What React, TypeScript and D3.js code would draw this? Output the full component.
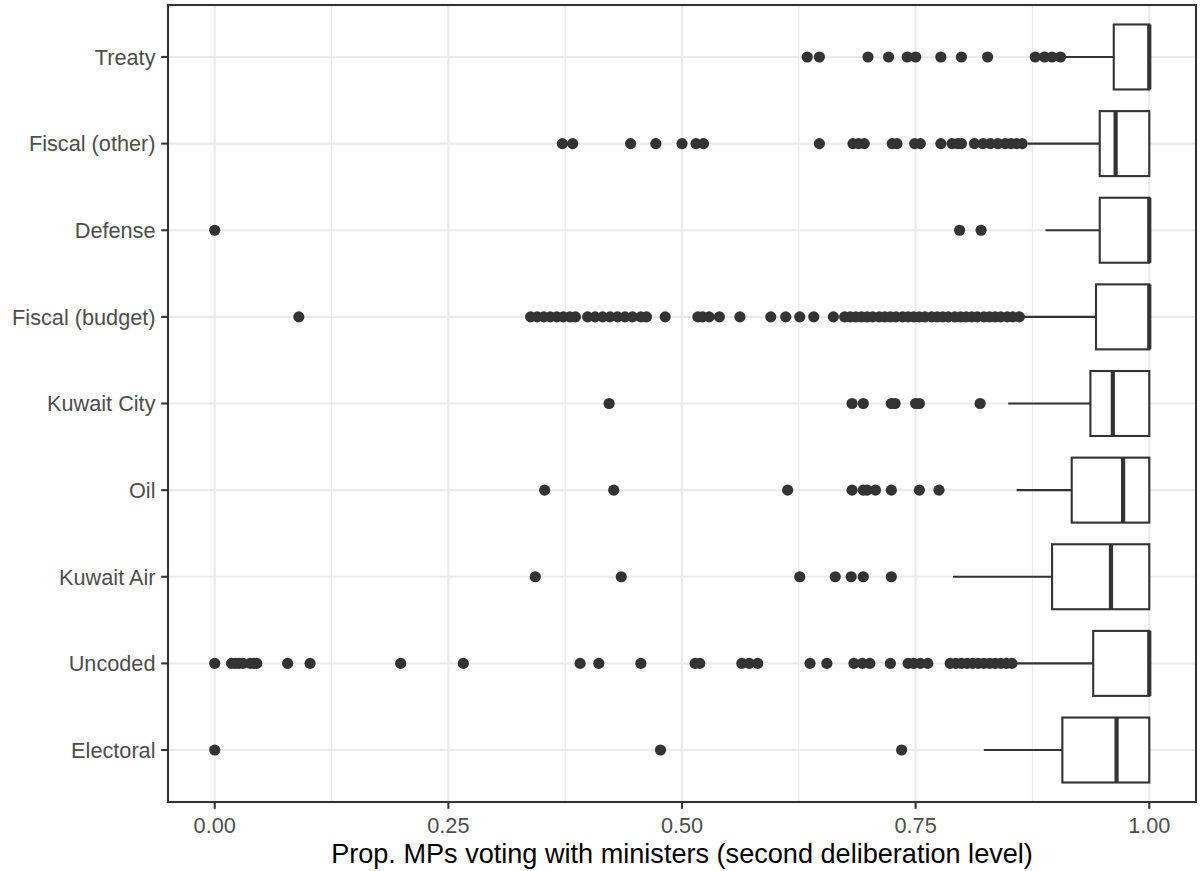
import React, { useEffect, useRef } from 'react';
import * as d3 from 'd3';

// categories top to bottom
const categories = ['Treaty', 'Fiscal (other)', 'Defense', 'Fiscal (budget)', 'Kuwait City', 'Oil', 'Kuwait Air', 'Uncoded', 'Electoral'];

// box summaries
const whiskerLow = [0.91, 0.87, 0.889, 0.866, 0.849, 0.858, 0.79, 0.856, 0.823];
const q1 = [0.962, 0.947, 0.947, 0.943, 0.937, 0.917, 0.896, 0.94, 0.907];
const medians = [1, 0.964, 1, 1, 0.961, 0.972, 0.959, 1, 0.965];
const q3 = [1, 1, 1, 1, 1, 1, 1, 1, 1];
const whiskerHigh = [1, 1, 1, 1, 1, 1, 1, 1, 1];

const outliers = [
  [0.634, 0.647, 0.699, 0.721, 0.741, 0.75, 0.777, 0.799, 0.827, 0.878, 0.888, 0.896, 0.905],
  [0.372, 0.383, 0.445, 0.472, 0.5, 0.515, 0.523, 0.647, 0.683, 0.689, 0.695, 0.725, 0.73, 0.749, 0.755,
    0.777, 0.789, 0.795, 0.799, 0.813, 0.822, 0.83, 0.838, 0.846, 0.852, 0.858, 0.864],
  [0, 0.797, 0.82],
  [0.09, 0.338, 0.345, 0.352, 0.359, 0.366, 0.373, 0.38, 0.386, 0.399, 0.407, 0.415, 0.423, 0.431, 0.439,
    0.447, 0.456, 0.462, 0.482, 0.517, 0.522, 0.529, 0.54, 0.562, 0.595, 0.611, 0.626, 0.641, 0.662,
    0.674, 0.68, 0.686, 0.692, 0.698, 0.704, 0.711, 0.717, 0.723, 0.729, 0.736, 0.742, 0.748, 0.754,
    0.76, 0.767, 0.773, 0.779, 0.785, 0.792, 0.798, 0.804, 0.81, 0.816, 0.823, 0.829, 0.835, 0.841,
    0.848, 0.854, 0.861],
  [0.422, 0.682, 0.694, 0.724, 0.728, 0.75, 0.754, 0.819],
  [0.353, 0.427, 0.613, 0.682, 0.694, 0.698, 0.707, 0.724, 0.754, 0.775],
  [0.343, 0.435, 0.626, 0.664, 0.681, 0.694, 0.724],
  [0, 0.018, 0.022, 0.026, 0.03, 0.038, 0.042, 0.045, 0.078, 0.102, 0.199, 0.266, 0.391, 0.411, 0.456,
    0.514, 0.519, 0.564, 0.572, 0.581, 0.637, 0.655, 0.684, 0.693, 0.701, 0.723, 0.742, 0.748, 0.755,
    0.763, 0.787, 0.793, 0.799, 0.805, 0.811, 0.817, 0.823, 0.829, 0.835, 0.841, 0.847, 0.853],
  [0, 0.477, 0.735],
];

const xTicks = [0, 0.25, 0.5, 0.75, 1];
const xMinor = [0.125, 0.375, 0.625, 0.875];
const xTitle = 'Prop. MPs voting with ministers (second deliberation level)';

const App = () => {
  const ref = useRef(null);

  useEffect(() => {
    const width = 1200;
    const height = 871;
    const panel = { left: 168, right: 1196, top: 5, bottom: 802 };
    const ink = '#333333';
    const font = '"Liberation Sans", Arial, Helvetica, sans-serif';

    const svg = d3.select(ref.current);
    svg.selectAll('*').remove();
    svg.attr('width', width).attr('height', height);

    const x = d3.scaleLinear().domain([-0.05, 1.05]).range([panel.left, panel.right]);
    const y = d3.scalePoint().domain(categories).range([panel.top, panel.bottom]).padding(0.6);
    const boxH = y.step() * 0.75;

    svg.append('rect').attr('width', width).attr('height', height).attr('fill', '#fff');

    // grid
    const grid = svg.append('g');
    grid.selectAll('.minor').data(xMinor).enter().append('line')
      .attr('x1', d => x(d)).attr('x2', d => x(d))
      .attr('y1', panel.top).attr('y2', panel.bottom)
      .attr('stroke', '#EBEBEB').attr('stroke-width', 1.1);
    grid.selectAll('.majorx').data(xTicks).enter().append('line')
      .attr('x1', d => x(d)).attr('x2', d => x(d))
      .attr('y1', panel.top).attr('y2', panel.bottom)
      .attr('stroke', '#EBEBEB').attr('stroke-width', 2.2);
    grid.selectAll('.majory').data(categories).enter().append('line')
      .attr('x1', panel.left).attr('x2', panel.right)
      .attr('y1', d => y(d)).attr('y2', d => y(d))
      .attr('stroke', '#EBEBEB').attr('stroke-width', 2.2);

    // boxes
    const rows = categories.map((c, i) => ({
      c, lo: whiskerLow[i], q1: q1[i], med: medians[i], q3: q3[i], hi: whiskerHigh[i], out: outliers[i],
    }));

    const g = svg.append('g').selectAll('g').data(rows).enter().append('g');

    g.append('line')
      .attr('x1', d => x(d.lo)).attr('x2', d => x(d.q1))
      .attr('y1', d => y(d.c)).attr('y2', d => y(d.c))
      .attr('stroke', ink).attr('stroke-width', 2.1);
    g.append('line')
      .attr('x1', d => x(d.q3)).attr('x2', d => x(d.hi))
      .attr('y1', d => y(d.c)).attr('y2', d => y(d.c))
      .attr('stroke', ink).attr('stroke-width', 2.1);
    g.append('rect')
      .attr('x', d => x(d.q1)).attr('width', d => x(d.q3) - x(d.q1))
      .attr('y', d => y(d.c) - boxH / 2).attr('height', boxH)
      .attr('fill', '#fff').attr('stroke', ink).attr('stroke-width', 2.1);
    g.append('line')
      .attr('x1', d => x(d.med)).attr('x2', d => x(d.med))
      .attr('y1', d => y(d.c) - boxH / 2).attr('y2', d => y(d.c) + boxH / 2)
      .attr('stroke', ink).attr('stroke-width', 4.2);

    g.selectAll('circle').data(d => d.out.map(v => ({ v, c: d.c }))).enter().append('circle')
      .attr('cx', d => x(d.v)).attr('cy', d => y(d.c)).attr('r', 5.6)
      .attr('fill', ink);

    // panel border
    svg.append('rect')
      .attr('x', panel.left).attr('y', panel.top)
      .attr('width', panel.right - panel.left).attr('height', panel.bottom - panel.top)
      .attr('fill', 'none').attr('stroke', ink).attr('stroke-width', 2.1);

    // x axis
    const xa = svg.append('g');
    xa.selectAll('line').data(xTicks).enter().append('line')
      .attr('x1', d => x(d)).attr('x2', d => x(d))
      .attr('y1', panel.bottom).attr('y2', panel.bottom + 6.8)
      .attr('stroke', ink).attr('stroke-width', 2.1);
    xa.selectAll('text').data(xTicks).enter().append('text')
      .attr('x', d => x(d)).attr('y', 832.5)
      .attr('text-anchor', 'middle')
      .style('font-family', font).style('font-size', '21.7px').attr('fill', '#4D4D4D')
      .text(d => d3.format('.2f')(d));

    // y axis
    const ya = svg.append('g');
    ya.selectAll('line').data(categories).enter().append('line')
      .attr('x1', panel.left - 6.8).attr('x2', panel.left)
      .attr('y1', d => y(d)).attr('y2', d => y(d))
      .attr('stroke', ink).attr('stroke-width', 2.1);
    ya.selectAll('text').data(categories).enter().append('text')
      .attr('x', 155.5).attr('y', d => y(d)).attr('dy', '0.36em')
      .attr('text-anchor', 'end')
      .style('font-family', font).style('font-size', '21.7px').attr('fill', '#4D4D4D')
      .text(d => d);

    svg.append('text')
      .attr('x', (panel.left + panel.right) / 2).attr('y', 862.5)
      .attr('text-anchor', 'middle')
      .style('font-family', font).style('font-size', '27.1px').attr('fill', '#000')
      .text(xTitle);
  }, []);

  return (
    <div style={{ position: 'absolute', left: 0, top: 0 }}>
      <svg ref={ref} width={1200} height={871} style={{ display: 'block' }}></svg>
    </div>
  );
};

export default App;
